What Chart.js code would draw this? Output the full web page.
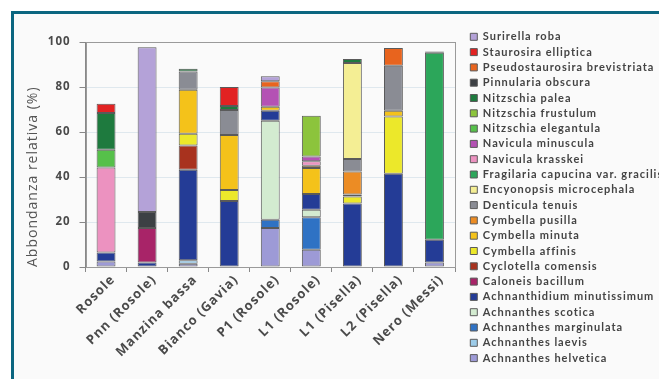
<!DOCTYPE html>
<html>
<head>
<meta charset="utf-8">
<script src="https://cdn.jsdelivr.net/npm/chart.js@4.4.1/dist/chart.umd.min.js"></script>
<style>
html, body { margin: 0; padding: 0; background: #fff; overflow: hidden; }
#wrap { position: relative; width: 659px; height: 379px; }
#frame { position: absolute; left: 11px; top: 11px; right: 0; bottom: 0;
         border-top: 3px solid #0b6680; border-left: 3px solid #0b6680; background: #fafafa; }
canvas { position: absolute; left: 0; top: 0; }
</style>
</head>
<body>
<div id="wrap">
  <div id="frame"></div>
  <canvas id="chart" width="659" height="379"></canvas>
</div>
<script>
// sites (x categories)
const sites = ['Rosole', 'Pnn (Rosole)', 'Manzina bassa', 'Bianco (Gavia)', 'P1 (Rosole)',
               'L1 (Rosole)', 'L1 (Pisella)', 'L2 (Pisella)', 'Nero (Messi)'];

// species, bottom of the stack first
const species = ['Achnanthes helvetica', 'Achnanthes laevis', 'Achnanthes marginulata',
  'Achnanthes scotica', 'Achnanthidium minutissimum', 'Caloneis bacillum', 'Cyclotella comensis',
  'Cymbella affinis', 'Cymbella minuta', 'Cymbella pusilla', 'Denticula tenuis',
  'Encyonopsis microcephala', 'Fragilaria capucina var. gracilis', 'Navicula krasskei',
  'Navicula minuscula', 'Nitzschia elegantula', 'Nitzschia frustulum', 'Nitzschia palea',
  'Pinnularia obscura', 'Pseudostaurosira brevistriata', 'Staurosira elliptica', 'Surirella roba'];

const colors = ['#9d9ad6', '#9ccbe8', '#2f72c4', '#d3ebd0', '#243c96', '#a82468', '#a8321e',
  '#ece82a', '#f4c21a', '#ec8c24', '#8a8c94', '#f4ee94', '#2ca65a', '#ec92c0', '#b452b4',
  '#56c04a', '#8cc43c', '#1e7a3e', '#3c4044', '#e8641e', '#e22222', '#b4a2d8'];

// relative abundance (%) per site, same order as sites
const achHelvetica    = [2.5, 0,    1.5,  0,    17.3, 7.7,  0,    0,    2.0];
const achLaevis       = [0,   0,    1.5,  0,    0,    0,    0,    0,    0];
const achMarginulata  = [0,   0,    0,    0,    3.7,  14.4, 0,    0,    0];
const achScotica      = [0,   0,    0,    0,    44.1, 3.4,  0,    0,    0];
const achMinutissimum = [3.9, 2.0,  40.3, 29.4, 4.4,  7.0,  28.2, 41.5, 10.1];
const calBacillum     = [0,   15.3, 0,    0,    0,    0,    0,    0,    0];
const cycComensis     = [0,   0,    10.7, 0,    0,    0,    0,    0,    0];
const cymAffinis      = [0,   0,    5.3,  4.8,  0,    0,    3.2,  25.5, 0];
const cymMinuta       = [0,   0,    19.6, 24.5, 1.8,  11.5, 0.8,  2.5,  0];
const cymPusilla      = [0,   0,    0,    0,    0,    1.0,  10.3, 0,    0];
const denTenuis       = [0,   0,    8.1,  11.1, 0,    0,    5.5,  20.0, 0];
const encMicrocephala = [0,   0,    0,    0,    0,    0,    42.7, 0,    0];
const fraCapucina     = [0,   0,    0,    0,    0,    0,    0,    0,    83.2];
const navKrasskei     = [37.9,0,    0,    0,    0,    2.0,  0,    0,    0];
const navMinuscula    = [0,   0,    0,    0,    8.5,  2.2,  0,    0,    0];
const nitElegantula   = [7.9, 0,    0,    0,    0,    0,    0,    0,    0];
const nitFrustulum    = [0,   0,    0,    0,    0,    18.1, 0,    0,    0];
const nitPalea        = [16.3,0,    1.2,  1.8,  0,    0,    1.8,  0,    0.6];
const pinObscura      = [0,   7.2,  0,    0,    0,    0,    0,    0,    0];
const pseBrevistriata = [0,   0,    0,    0,    2.8,  0,    0,    7.9,  0];
const stauElliptica   = [4.1, 0,    0,    8.5,  0,    0,    0,    0,    0];
const surRoba         = [0,   73.2, 0,    0,    2.2,  0,    0,    0,    0];

const yTicks = [0, 20, 40, 60, 80, 100];

const series = [achHelvetica, achLaevis, achMarginulata, achScotica, achMinutissimum,
  calBacillum, cycComensis, cymAffinis, cymMinuta, cymPusilla, denTenuis, encMicrocephala,
  fraCapucina, navKrasskei, navMinuscula, nitElegantula, nitFrustulum, nitPalea, pinObscura,
  pseBrevistriata, stauElliptica, surRoba];

const FONT = "'Open Sans', 'DejaVu Sans', sans-serif";
const LEGEND_FONT = "Lato, 'Open Sans', sans-serif";
const SPACING = '1px';

// canvas letter spacing (text in the picture is spread out)
const spacing = {
    id: 'spacing',
    beforeUpdate(chart) { chart.ctx.letterSpacing = SPACING; },
    beforeDraw(chart) { chart.ctx.letterSpacing = SPACING; }
};

// small gap between plot and legend
const legendGap = {
    id: 'legendGap',
    afterLayout(chart) {
        chart.legend.left += 11;
        chart.legend.right += 11;
    }
};

// grey frame round the plot area
const plotFrame = {
    id: 'plotFrame',
    beforeDatasetsDraw(chart) {
        const {ctx, chartArea: a} = chart;
        ctx.save();
        ctx.strokeStyle = '#9a9a9a';
        ctx.lineWidth = 1;
        ctx.strokeRect(Math.round(a.left) + 0.5, Math.round(a.top) + 0.5,
                       Math.round(a.width), Math.round(a.height));
        ctx.restore();
    }
};

new Chart(document.getElementById('chart'), {
    type: 'bar',
    data: {
        labels: sites,
        datasets: species.map((name, i) => ({
            label: name,
            data: series[i],
            backgroundColor: colors[i],
            borderColor: '#5a5a5a',
            borderWidth: 1,
            borderSkipped: false,
            barPercentage: 0.46,
            categoryPercentage: 1
        }))
    },
    options: {
        responsive: false,
        animation: false,
        layout: { padding: { top: 27, left: 20, right: 0, bottom: 4 } },
        plugins: {
            title: { display: true, text: '', fullSize: false, font: { size: 1 },
                     padding: { top: 0, bottom: 14 } },
            tooltip: { enabled: false },
            legend: {
                position: 'right',
                align: 'start',
                reverse: true,
                maxWidth: 204,
                labels: {
                    boxWidth: 7,
                    boxHeight: 7,
                    padding: 4.3,
                    color: '#444',
                    font: { family: LEGEND_FONT, size: 11, weight: 'bold' }
                }
            }
        },
        scales: {
            x: {
                stacked: true,
                afterFit: scale => {
                    scale.height = 108;
                    scale.paddingLeft = 0; // rotated labels may run left of the axis
                },
                grid: { color: 'rgba(0,0,0,0)', tickColor: '#888', tickLength: 5, offset: true },
                border: { color: '#888' },
                ticks: {
                    maxRotation: 45, minRotation: 45, padding: 0, labelOffset: 7,
                    color: '#4a4a4a',
                    font: { family: FONT, size: 13, weight: 'bold' }
                }
            },
            y: {
                stacked: true,
                min: 0, max: 100,
                afterBuildTicks: axis => { axis.ticks = yTicks.map(v => ({ value: v })); },
                grid: { color: 'rgba(190,210,225,0.45)', tickColor: '#888', tickLength: 6 },
                border: { color: '#888' },
                ticks: {
                    padding: 9,
                    color: '#4a4a4a',
                    font: { family: FONT, size: 11.5, weight: 'bold' }
                },
                title: {
                    display: true,
                    align: 'start',
                    text: 'Abbondanza relativa (%)',
                    color: '#555',
                    padding: { top: 5, bottom: -3 },
                    font: { family: FONT, size: 14 }
                }
            }
        }
    },
    plugins: [spacing, legendGap, plotFrame]
});
</script>
</body>
</html>
